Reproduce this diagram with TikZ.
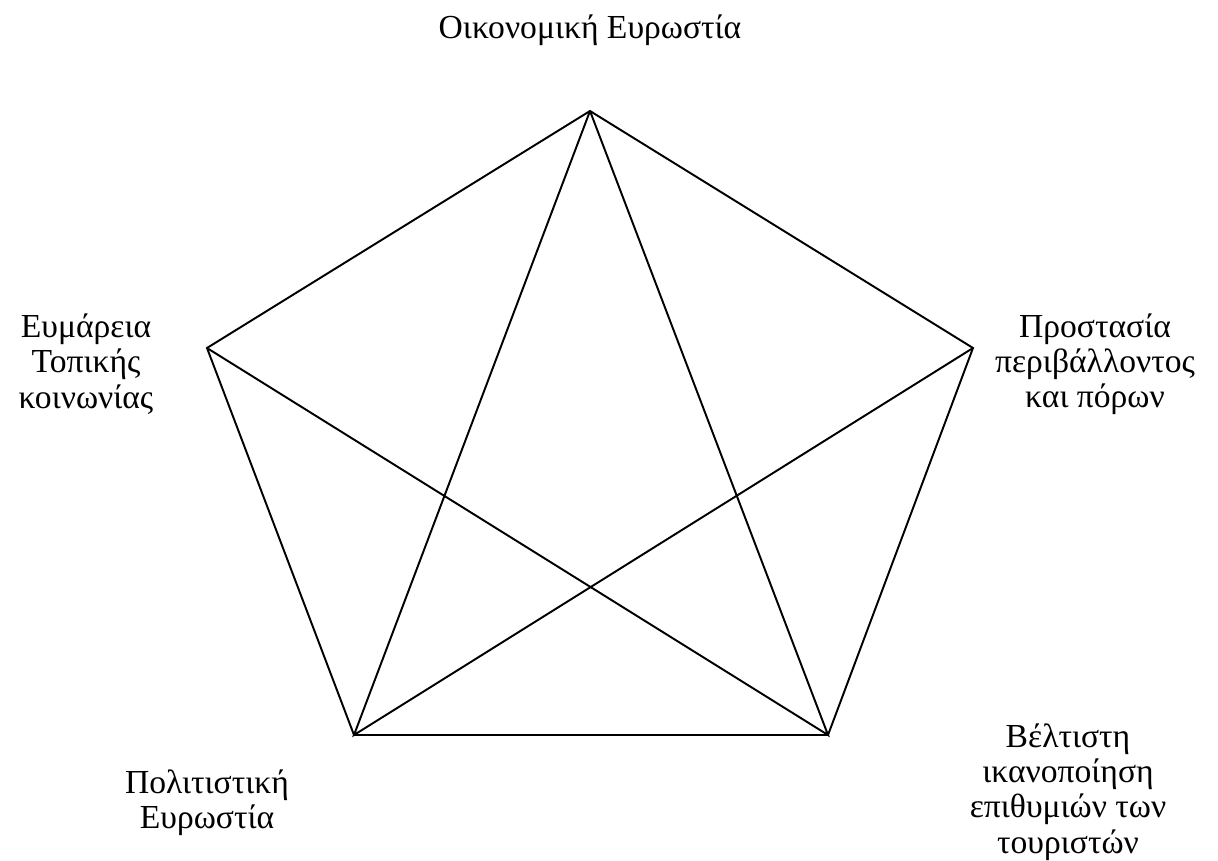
\documentclass[tikz,border=0pt]{standalone}
\usepackage{fontspec}
\setmainfont{Liberation Serif}
\usepackage{tikz}
\tikzset{goal/.style={align=center, inner sep=0pt, font=\fontsize{13pt}{13.6pt}\selectfont}}

\begin{document}
\begin{tikzpicture}[x=0.0136cm, y=-0.0136cm, line width=0.75pt]
	\useasboundingbox (0,0) rectangle (1218,861);
	\coordinate (top) at (590,111);
	\coordinate (left) at (207,348);
	\coordinate (right) at (973,348);
	\coordinate (botleft) at (354,735);
	\coordinate (botright) at (828,735);
	\node[goal] at (590,30) (econ) {Οικονομική Ευρωστία};
	\node[goal] at (86,364) (soc) {Ευμάρεια\\Τοπικής\\κοινωνίας};
	\node[goal] at (1095,364) (env) {Προστασία\\περιβάλλοντος\\και πόρων};
	\node[goal] at (207,803) (cult) {Πολιτιστική\\Ευρωστία};
	\node[goal] at (1068,792) (tour) {Βέλτιστη\\ικανοποίηση\\επιθυμιών των\\τουριστών};
	\draw (top) -- (left) -- (botleft) -- (botright) -- (right) -- cycle;
	\draw (top) -- (botleft) -- (right);
	\draw (top) -- (botright) -- (left);
\end{tikzpicture}
\end{document}
